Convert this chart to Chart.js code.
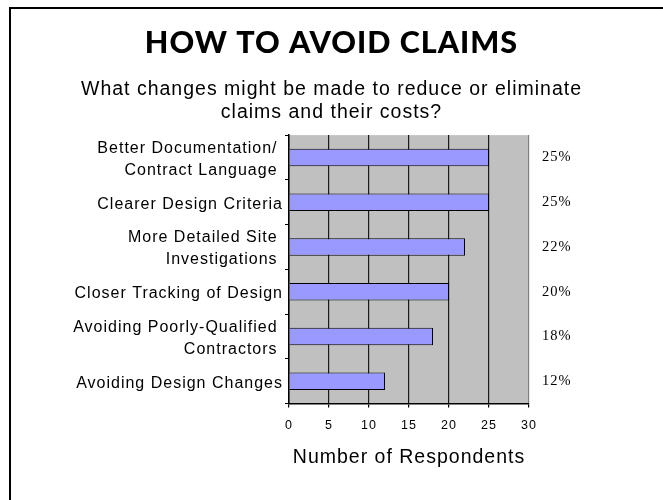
<!doctype html>
<html>

<head>
    <title>How to avoid claims</title>
    <script src="https://cdn.jsdelivr.net/npm/chart.js"></script>
    <style>
        html,
        body {
            margin: 0;
            padding: 0;
            background: #fff;
            overflow: hidden;
        }

        #moldura {
            position: absolute;
            left: 9px;
            top: 7px;
            width: 800px;
            height: 600px;
            border-left: 2px solid #000;
            border-top: 2px solid #000;
        }

        #grafico {
            position: absolute;
            left: 0;
            top: 0;
            width: 663px;
            height: 500px;
        }
    </style>
</head>

<body>
    <div id="moldura"></div>
    <div id="grafico"><canvas id="chartBar"></canvas></div>

    <script>
        // dados
        var categorias = [
            ['Better Documentation/ ', 'Contract Language '],
            'Clearer Design Criteria',
            ['More Detailed Site ', 'Investigations '],
            'Closer Tracking of Design',
            ['Avoiding Poorly-Qualified ', 'Contractors '],
            'Avoiding Design Changes'
        ];
        var respondentes = [25, 25, 22, 20, 18, 12];
        var percentuais = ['25%', '25%', '22%', '20%', '18%', '12%'];
        var ticksX = [0, 5, 10, 15, 20, 25, 30];

        var titulo = 'HOW TO AVOID CLAIMS';
        var subtitulo = ['What changes might be made to reduce or eliminate', 'claims and their costs?'];
        var tituloEixoX = 'Number of Respondents';

        // fundo cinza da area do grafico + espacamento das letras
        var fundo = {
            id: 'fundo',
            beforeLayout: function (chart) {
                chart.ctx.letterSpacing = '1px';
            },
            beforeDraw: function (chart) {
                var ctx = chart.ctx;
                var a = chart.chartArea;
                ctx.letterSpacing = '1px';
                ctx.save();
                ctx.fillStyle = '#C0C0C0';
                ctx.fillRect(a.left, a.top, a.right - a.left, a.bottom - a.top);
                ctx.restore();
            }
        };

        var contexto = document.getElementById('chartBar');
        var grafico = new Chart(contexto, {
            type: 'bar',
            data: {
                labels: categorias,
                datasets: [{
                    label: tituloEixoX,
                    data: respondentes,
                    backgroundColor: '#9999FF',
                    borderColor: '#000000',
                    borderWidth: 1,
                    barPercentage: 0.39,
                    categoryPercentage: 1
                }]
            },
            options: {
                indexAxis: 'y',
                responsive: true,
                maintainAspectRatio: false,
                animation: false,
                layout: {
                    padding: { top: 0, left: 0, right: 0, bottom: 31 }
                },
                plugins: {
                    legend: { display: false },
                    tooltip: { enabled: false },
                    title: {
                        display: true,
                        text: titulo,
                        color: '#000',
                        font: { family: 'Lato', weight: 900, size: 30.5, lineHeight: 1.2 },
                        padding: { top: 25, bottom: 0 }
                    },
                    subtitle: {
                        display: true,
                        text: subtitulo,
                        color: '#000',
                        font: { family: '"Liberation Sans", Arial', size: 19.5, lineHeight: '23px' },
                        padding: { top: 17, bottom: 10.5 }
                    }
                },
                scales: {
                    x: {
                        type: 'linear',
                        min: 0,
                        max: 30,
                        afterBuildTicks: function (s) {
                            s.ticks = ticksX.map(function (v) { return { value: v }; });
                        },
                        grid: {
                            color: function (c) {
                                return c.tick && c.tick.value === 30 ? '#808080' : '#1a1a1a';
                            },
                            lineWidth: 1.2,
                            tickColor: '#000',
                            tickLength: 4
                        },
                        border: { display: true, color: '#000', width: 1.5 },
                        ticks: {
                            color: '#000',
                            padding: 10,
                            font: { family: '"Liberation Sans", Arial', size: 12.5, lineHeight: 1.2 }
                        },
                        title: {
                            display: true,
                            text: tituloEixoX,
                            color: '#000',
                            font: { family: '"Liberation Sans", Arial', size: 19.5, lineHeight: 1.2 },
                            padding: { top: 3, bottom: 0 }
                        }
                    },
                    y: {
                        position: 'left',
                        offset: true,
                        afterFit: function (s) { s.width = 289; },
                        grid: {
                            offset: true,
                            drawOnChartArea: false,
                            drawTicks: true,
                            tickLength: 4,
                            color: '#000'
                        },
                        border: { display: true, color: '#000', width: 1.5 },
                        ticks: {
                            color: '#000',
                            padding: 2,
                            labelOffset: 2,
                            autoSkip: false,
                            font: { family: '"Liberation Sans", Arial', size: 16, lineHeight: '22px' }
                        }
                    },
                    y2: {
                        type: 'category',
                        labels: percentuais,
                        position: 'right',
                        offset: true,
                        afterFit: function (s) { s.width = 134; },
                        grid: { display: false, drawTicks: false },
                        border: { display: false },
                        ticks: {
                            color: '#000',
                            padding: 13,
                            autoSkip: false,
                            font: { family: '"Liberation Serif", "Times New Roman"', size: 14.5 }
                        }
                    }
                }
            },
            plugins: [fundo]
        });
    </script>
</body>

</html>
